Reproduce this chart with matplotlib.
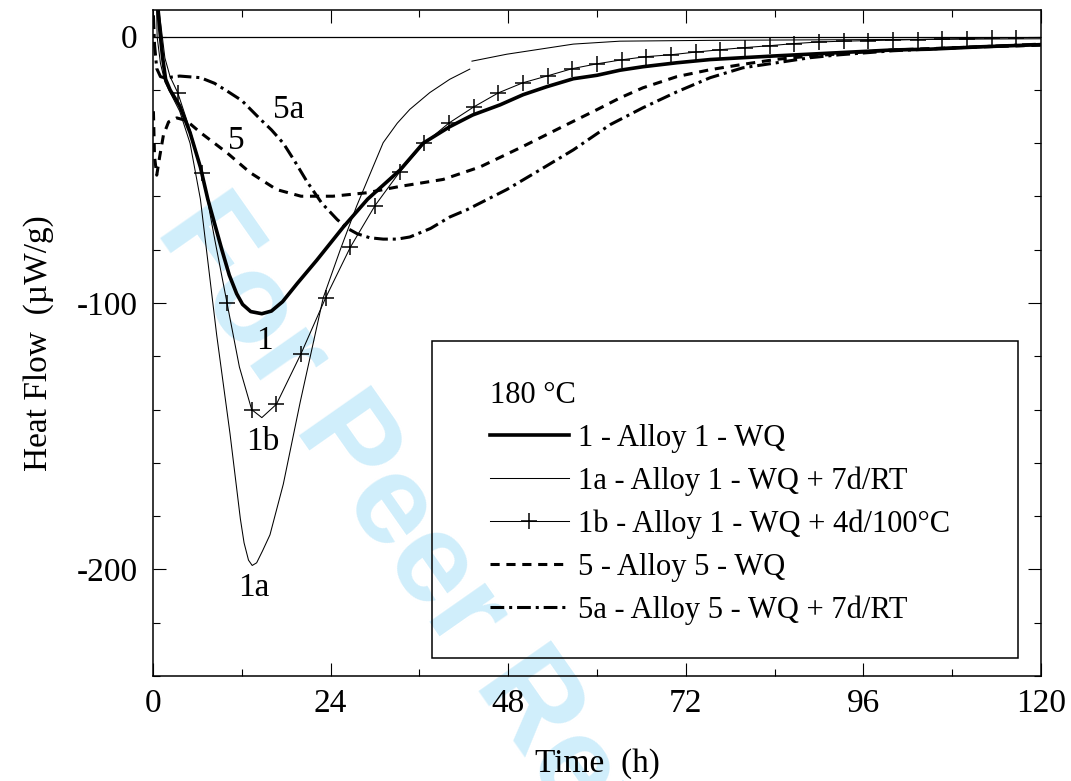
import numpy as np
import matplotlib
matplotlib.use("Agg")
from matplotlib import pyplot as plt
from matplotlib.patches import Rectangle
from matplotlib.ticker import MultipleLocator

plt.rcParams['font.family'] = ['Liberation Serif', 'DejaVu Serif']
plt.rcParams['axes.unicode_minus'] = False

# Curva 1 - Alloy 1 - WQ
t_1 = [0.3, 0.6, 1.0, 1.3, 1.7, 2.3, 3.6, 5.0, 6.4, 7.4, 9.3, 10.3, 11.3, 12.1, 13.2, 14.7,
       16.0, 17.5, 19.5, 22.1, 25.7, 29.0, 33.4, 36.5, 40.1, 43.2, 46.9, 50.0, 53.2, 56.8,
       60.0, 63.1, 66.2, 70.8, 75.3, 79.7, 84.3, 92.8, 100.0, 105.0, 112.0, 120.0]
hf_1 = [40, 12, 0, -8, -16, -20, -26, -36, -49, -61, -80, -89.5, -96.5, -100.5, -103.2, -104,
        -103, -99.5, -92.6, -84, -71.5, -61, -50, -40, -33.8, -29.4, -25.6, -21.8, -18.8, -15.8,
        -14.5, -12.6, -11.3, -9.8, -8.6, -7.9, -7.2, -6.0, -5.0, -4.7, -3.8, -3.0]

# Curva 1a - Alloy 1 - WQ + 7d/RT (con un salto en ~43 h)
t_1a = [0.2, 0.55, 1.0, 1.6, 2.5, 3.6, 5.0, 6.4, 8.6, 10.4, 11.8, 12.3, 12.9, 13.4, 14.0,
        14.8, 15.8, 17.6, 19.9, 23.0, 25.3, 27.5, 29.5, 31.1, 33.0, 34.7, 37.4, 40.1, 42.8,
        np.nan, 43.1, 47.8, 52.3, 56.8, 63.1, 75.0, 90.0, 105.0, 120.0]
hf_1a = [60, 0, -10, -17, -22, -28, -40, -61, -112, -149, -181, -190, -196.5, -198.5, -197.5,
         -193, -187, -168, -137, -98, -80, -63.7, -50.4, -39.8, -32.5, -27.3, -21, -16, -12.2,
         np.nan, -9.2, -6.6, -4.7, -2.8, -1.7, -1.4, -1.2, -1.0, -0.8]

# Curva 1b - Alloy 1 - WQ + 4d/100°C
t_1b = [0.4, 0.9, 1.6, 2.3, 3.33, 5.0, 6.67, 8.33, 10.0, 11.67, 13.33, 14.7, 16.67, 20.0,
        23.33, 26.67, 30.0, 33.33, 36.67, 40.0, 43.33, 46.67, 50.0, 53.33, 56.67, 60.0, 63.33,
        66.67, 70.0, 73.33, 76.67, 80.0, 83.33, 86.67, 90.0, 93.33, 96.67, 100.0, 103.33,
        106.67, 110.0, 113.33, 116.67, 120.0]
hf_1b = [40, 8, -8, -15, -21, -35, -51, -76, -100, -124, -140, -143, -138, -119,
         -98, -79, -63.4, -50.8, -40, -32.4, -26.4, -21.1, -17.3, -14.7, -12, -10.2, -8.7,
         -7.5, -6.8, -5.8, -4.9, -4.1, -3.4, -2.6, -2.0, -1.7, -1.5, -1.3, -1.1,
         -0.9, -0.7, -0.5, -0.4, -0.3]

# Curva 5 - Alloy 5 - WQ
t_5 = [0.05, 0.2, 0.5, 0.9, 1.4, 2.1, 3.2, 4.5, 6.4, 10.0, 13.1, 16.7, 20.0, 24.3, 28.9,
       33.4, 39.2, 44.2, 50.0, 55.4, 60.0, 63.1, 66.2, 70.8, 75.3, 79.7, 84.3, 88.8, 95.0,
       100.0, 110.0, 120.0]
hf_5 = [-28, -45, -52, -45, -37, -32, -30.5, -31.5, -36, -43.6, -51, -57.4, -59.9, -59.9, -58.6,
        -56.2, -53.6, -48.9, -41.2, -33.7, -27.4, -23, -19.2, -15, -12.4, -10.4, -8.5, -7.3, -6.0,
        -5.0, -4.0, -3.2]

# Curva 5a - Alloy 5 - WQ + 7d/RT
t_5a = [0.05, 0.2, 0.5, 1.0, 1.6, 3.6, 6.4, 8.3, 10.0, 12.0, 14.5, 16.0, 17.6, 19.2, 20.8,
        22.8, 24.9, 26.3, 27.6, 29.3, 31.1, 33.0, 34.7, 37.5, 40.1, 42.4, 47.8, 52.3, 56.8,
        61.8, 66.2, 70.8, 75.3, 79.7, 84.3, 88.8, 92.8, 100.0, 110.0, 120.0]
hf_5a = [8, -3, -12, -15, -15.5, -14.8, -15.4, -17.5, -20.4, -24, -31, -35, -40, -47, -54.4,
         -62.5, -68.7, -72, -74, -75.5, -76, -76, -75.2, -72, -67.7, -65, -57.4, -50, -42.5,
         -33, -26.7, -20.7, -15.4, -11.7, -9.8, -7.9, -6.8, -5.3, -4.0, -2.8]

etiquetas = ['1 - Alloy 1 - WQ', '1a - Alloy 1 - WQ + 7d/RT', '1b - Alloy 1 - WQ + 4d/100°C',
             '5 - Alloy 5 - WQ', '5a - Alloy 5 - WQ + 7d/RT']
rotulos = ['5a', '5', '1', '1b', '1a']
rotulos_x = [18.3, 11.3, 15.0, 14.8, 13.6]
rotulos_y = [-27.5, -39, -114, -152, -207]

fig = plt.figure(figsize=(10.71, 7.81), dpi=100)
ax = fig.add_axes([0.1429, 0.1344, 0.8291, 0.8528])
ax.set_facecolor('none')

# marca de agua
fig.text(0.145, 0.705, 'For Peer Review', fontsize=92, color='#d0eefb', rotation=-55,
         rotation_mode='anchor', ha='left', va='baseline', family='Liberation Sans',
         weight='bold', zorder=-1)

ax.axhline(0, color='black', lw=0.9)

l1, = ax.plot(t_1, hf_1, color='black', lw=2.6)
l1a, = ax.plot(t_1a, hf_1a, color='black', lw=0.75)
marcas = [i for i, t in enumerate(t_1b) if 0 < t < 119 and abs(t * 0.3 - round(t * 0.3)) < 0.01]
l1b, = ax.plot(t_1b, hf_1b, color='black', lw=0.75, marker='+', markersize=11,
               markeredgewidth=1.1, markevery=marcas)
l5, = ax.plot(t_5, hf_5, color='black', lw=2.2, dashes=(3, 2.2))
l5a, = ax.plot(t_5a, hf_5a, color='black', lw=2.2, dashes=(4.5, 1.6, 1, 1.6))

for txt, x, y in zip(rotulos, rotulos_x, rotulos_y):
    ax.text(x, y, txt, fontsize=24, ha='center', va='center')

ax.set_xlim(0, 120)
ax.set_ylim(-240, 10)
ax.xaxis.set_major_locator(MultipleLocator(24))
ax.xaxis.set_minor_locator(MultipleLocator(12))
ax.yaxis.set_major_locator(MultipleLocator(100))
ax.yaxis.set_minor_locator(MultipleLocator(20))
ax.tick_params(which='both', direction='in', top=True, right=True, width=0.8, labelsize=24)
ax.tick_params(which='major', length=9.5)
ax.tick_params(which='minor', length=5)
ax.tick_params(axis='y', pad=11)
ax.tick_params(axis='x', pad=9)
for s in ax.spines.values():
    s.set_linewidth(1.1)

ax.set_xlabel('Time  (h)', fontsize=24, labelpad=21)
ax.set_ylabel('Heat Flow  (µW/g)', fontsize=24, labelpad=16)

ax.add_patch(Rectangle((0.314, 0.027), 0.66, 0.476, transform=ax.transAxes,
                       fill=False, lw=1.1, edgecolor='black', zorder=5))
leg = ax.legend([l1, l1a, l1b, l5, l5a], etiquetas, title='180 °C', loc='upper left',
                bbox_to_anchor=(0.362, 0.466), frameon=False, fontsize=22, title_fontsize=22,
                handlelength=2.6, handletextpad=0.3, labelspacing=0.45, borderpad=0,
                alignment='left')

fig.savefig('out.png', dpi=100)
